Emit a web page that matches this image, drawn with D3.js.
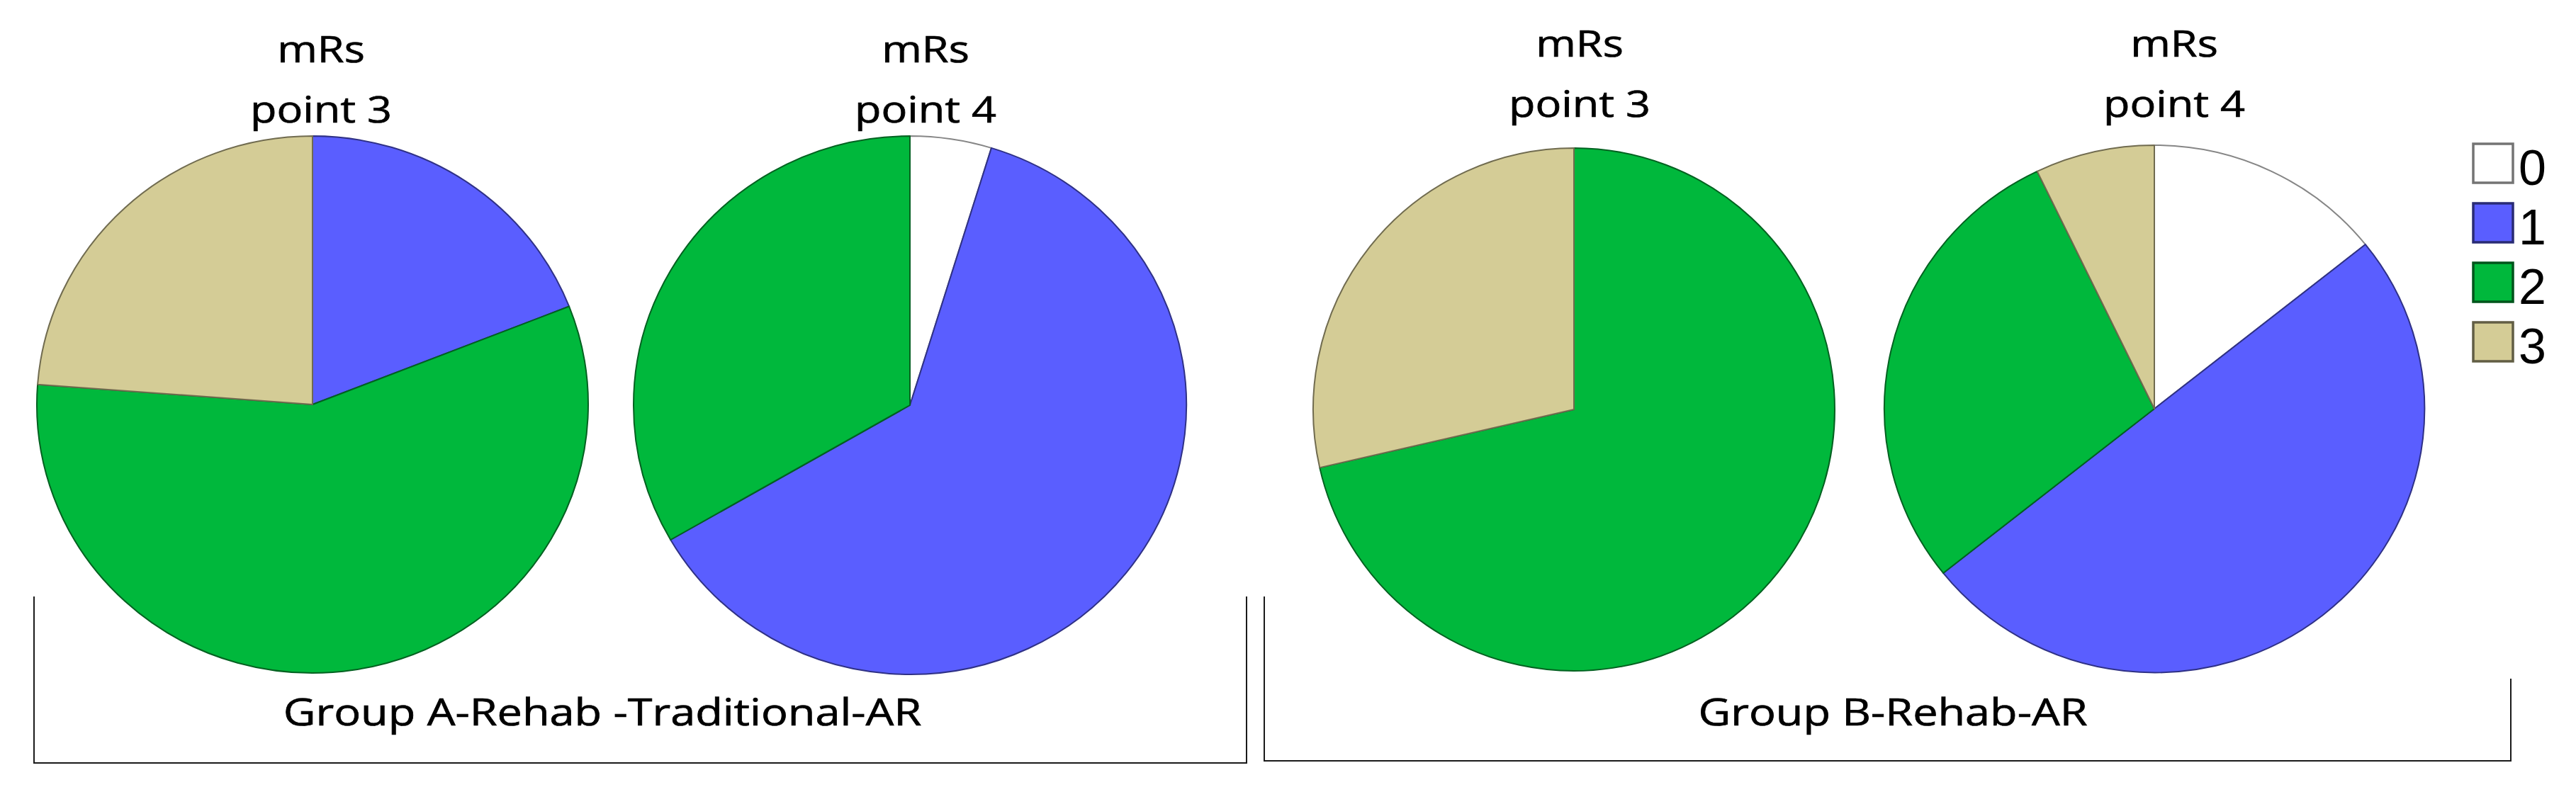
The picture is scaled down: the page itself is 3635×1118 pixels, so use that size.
<!DOCTYPE html>
<html>
<head>
<meta charset="utf-8">
<script src="https://cdnjs.cloudflare.com/ajax/libs/d3/7.8.5/d3.min.js"></script>
<style>
  html, body { margin: 0; padding: 0; background: #fff; }
  svg { display: block; }
</style>
</head>
<body>
<svg id="chart" width="3635" height="1118"></svg>
<script>
// mRs categories and their colours
var categories = ["0", "1", "2", "3"];
var colors = ["#ffffff", "#5a5eff", "#00b83c", "#d4cc96"];

// patient counts per mRs category (0,1,2,3)
var groupAPoint3 = [0, 4, 12, 5];
var groupAPoint4 = [1, 13, 7, 0];
var groupBPoint3 = [0, 0, 15, 6];
var groupBPoint4 = [2, 7, 4, 1];

var pieTitles = ["point 3", "point 4", "point 3", "point 4"];
var groupLabels = ["Group A-Rehab -Traditional-AR", "Group B-Rehab-AR"];

var svg = d3.select("#chart");

// layout of the four pies
var pies = [
	{ values: groupAPoint3, title: pieTitles[0], cx: 441, cy: 571, rx: 389, ry: 379, tx: 453, ty: 88 },
	{ values: groupAPoint4, title: pieTitles[1], cx: 1284, cy: 572, rx: 390, ry: 380, tx: 1306, ty: 88 },
	{ values: groupBPoint3, title: pieTitles[2], cx: 2221, cy: 578, rx: 368, ry: 369, tx: 2229, ty: 80 },
	{ values: groupBPoint4, title: pieTitles[3], cx: 3040, cy: 577, rx: 381, ry: 372, tx: 3068, ty: 80 }
];

var pie = d3.pie().sort(null).value(function(d) {
	return d.value;
});

var titleFont = "'Open Sans', 'Noto Sans', sans-serif";

// text written with a hairline stroke so it gets the weight of the original
function addText(sel, size) {
	return sel.attr("text-anchor", "middle")
		.style("font-family", titleFont)
		.style("font-size", size + "px")
		.attr("fill", "#000")
		.attr("stroke", "#000")
		.attr("stroke-width", 0.7);
}

pies.forEach(function(p) {
	var data = p.values.map(function(v, i) {
		return { key: categories[i], value: v };
	});
	var arc = d3.arc().innerRadius(0).outerRadius(p.ry);
	var g = svg.append("g")
		.attr("transform", "translate(" + p.cx + "," + p.cy + ") scale(" + (p.rx / p.ry) + ",1)");
	g.selectAll("path")
		.data(pie(data).filter(function(d) { return d.data.value > 0; }))
		.enter().append("path")
		.attr("d", arc)
		.attr("fill", function(d) {
			return colors[categories.indexOf(d.data.key)];
		})
		.attr("stroke", function(d) {
			return d3.color(colors[categories.indexOf(d.data.key)]).darker(1.8);
		})
		.attr("stroke-width", 2)
		.attr("vector-effect", "non-scaling-stroke")
		.attr("stroke-linejoin", "round");

	// two-line title, glyphs stretched sideways as in the original figure
	var t = svg.append("g")
		.attr("transform", "translate(" + p.tx + ",0) scale(1.2,1)");
	addText(t.append("text").attr("x", 0).attr("y", p.ty), 51).text("mRs");
	addText(t.append("text").attr("x", 0).attr("y", p.ty + 85), 51).text(p.title);
});

// group brackets
var brackets = [
	{ x0: 48, x1: 1759, yl: 842, yr: 842, yb: 1077, label: groupLabels[0], lx: 850 },
	{ x0: 1784, x1: 3543, yl: 842, yr: 958, yb: 1074, label: groupLabels[1], lx: 2671 }
];

var line = d3.line();
brackets.forEach(function(b) {
	svg.append("path")
		.attr("d", line([[b.x0, b.yl], [b.x0, b.yb], [b.x1, b.yb], [b.x1, b.yr]]))
		.attr("fill", "none")
		.attr("stroke", "#1a1a1a")
		.attr("stroke-width", 2);
	var g = svg.append("g")
		.attr("transform", "translate(" + b.lx + ",0) scale(1.2,1)");
	addText(g.append("text").attr("x", 0).attr("y", 1024), 52.5).text(b.label);
});

// legend
var legend = svg.append("g").attr("transform", "translate(3490,203)");
var item = legend.selectAll("g")
	.data(categories)
	.enter().append("g")
	.attr("transform", function(d, i) {
		return "translate(0," + (i * 84) + ")";
	});
item.append("rect")
	.attr("width", 56).attr("height", 55)
	.attr("fill", function(d, i) { return colors[i]; })
	.attr("stroke", function(d, i) { return d3.color(colors[i]).darker(2.2); })
	.attr("stroke-width", 3.5);
item.append("text")
	.attr("x", 64).attr("y", 58)
	.style("font-family", "'Liberation Sans', Arial, sans-serif")
	.style("font-size", "70px")
	.text(function(d) { return d; });
</script>
</body>
</html>
